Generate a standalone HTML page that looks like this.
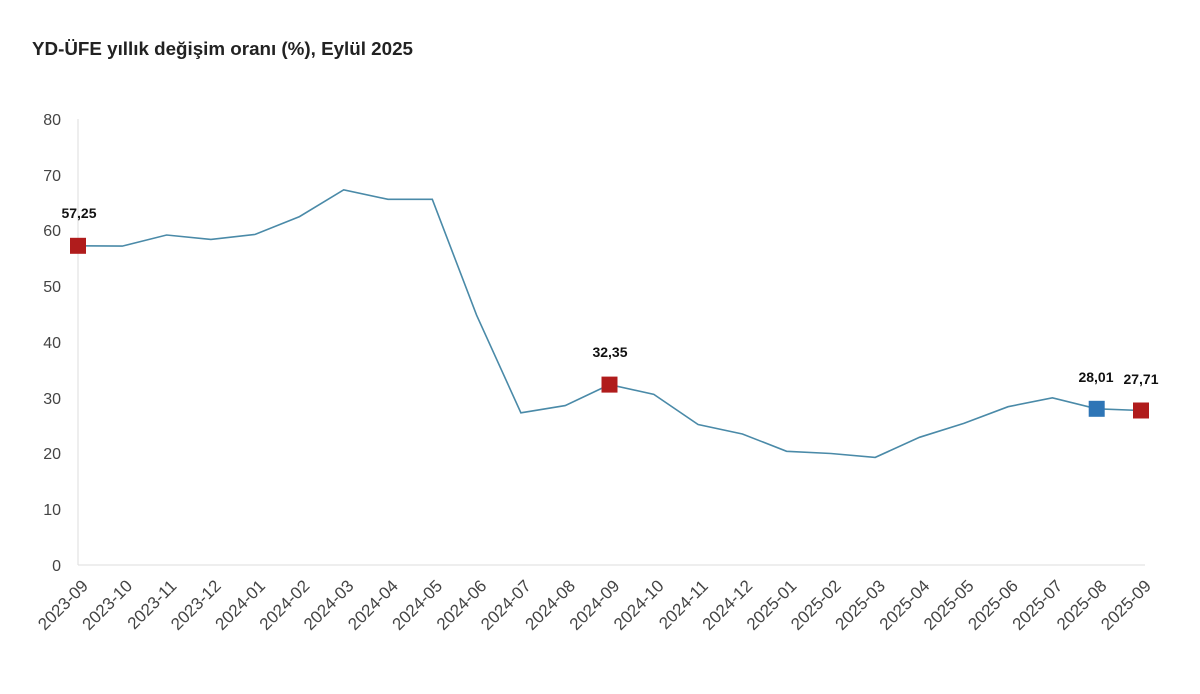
<!DOCTYPE html>
<html><head><meta charset="utf-8"><style>
html,body{margin:0;padding:0;background:#fff;}
svg{display:block;font-family:"Liberation Sans",sans-serif;}
</style></head><body>
<svg width="1200" height="694" viewBox="0 0 1200 694" xmlns="http://www.w3.org/2000/svg">
<text x="32" y="55" font-size="18.8" font-weight="bold" fill="#222">YD-ÜFE yıllık değişim oranı (%), Eylül 2025</text>
<g fill="#444" font-size="16" text-anchor="end">
<text x="61" y="125">80</text><text x="61" y="181">70</text><text x="61" y="236">60</text><text x="61" y="292">50</text>
<text x="61" y="348">40</text><text x="61" y="404">30</text><text x="61" y="459">20</text><text x="61" y="515">10</text><text x="61" y="571">0</text>
</g>
<line x1="78" y1="119" x2="78" y2="565" stroke="#ddd" stroke-width="1"/>
<line x1="78" y1="565" x2="1145" y2="565" stroke="#ddd" stroke-width="1"/>
<g fill="#444" font-size="17" text-anchor="end">
<text transform="translate(89,587) rotate(-45)">2023-09</text>
<text transform="translate(133.3,587) rotate(-45)">2023-10</text>
<text transform="translate(177.6,587) rotate(-45)">2023-11</text>
<text transform="translate(221.9,587) rotate(-45)">2023-12</text>
<text transform="translate(266.2,587) rotate(-45)">2024-01</text>
<text transform="translate(310.5,587) rotate(-45)">2024-02</text>
<text transform="translate(354.7,587) rotate(-45)">2024-03</text>
<text transform="translate(399,587) rotate(-45)">2024-04</text>
<text transform="translate(443.3,587) rotate(-45)">2024-05</text>
<text transform="translate(487.6,587) rotate(-45)">2024-06</text>
<text transform="translate(531.9,587) rotate(-45)">2024-07</text>
<text transform="translate(576.2,587) rotate(-45)">2024-08</text>
<text transform="translate(620.5,587) rotate(-45)">2024-09</text>
<text transform="translate(664.8,587) rotate(-45)">2024-10</text>
<text transform="translate(709.1,587) rotate(-45)">2024-11</text>
<text transform="translate(753.4,587) rotate(-45)">2024-12</text>
<text transform="translate(797.6,587) rotate(-45)">2025-01</text>
<text transform="translate(841.9,587) rotate(-45)">2025-02</text>
<text transform="translate(886.2,587) rotate(-45)">2025-03</text>
<text transform="translate(930.5,587) rotate(-45)">2025-04</text>
<text transform="translate(974.8,587) rotate(-45)">2025-05</text>
<text transform="translate(1019.1,587) rotate(-45)">2025-06</text>
<text transform="translate(1063.4,587) rotate(-45)">2025-07</text>
<text transform="translate(1107.7,587) rotate(-45)">2025-08</text>
<text transform="translate(1152,587) rotate(-45)">2025-09</text>
</g>
<polyline fill="none" stroke="#4a8aa8" stroke-width="1.6" points="78,245.8 122.3,246.1 166.6,235 210.9,239.4 255.2,234.4 299.5,216.6 343.7,189.8 388,199.3 432.3,199.3 476.6,315.2 520.9,412.8 565.2,405.6 609.5,384.6 653.8,394.4 698.1,424.5 742.4,434 786.6,451.3 830.9,453.5 875.2,457.4 919.5,437.3 963.8,423.4 1008.1,406.7 1052.4,397.8 1096.7,408.8 1141,410.5"/>
<rect x="70" y="237.8" width="16" height="16" fill="#b01c1c"/>
<rect x="601.5" y="376.6" width="16" height="16" fill="#b01c1c"/>
<rect x="1088.7" y="400.8" width="16" height="16" fill="#2e75b6"/>
<rect x="1133" y="402.5" width="16" height="16" fill="#b01c1c"/>
<g font-size="14" font-weight="bold" fill="#111" text-anchor="middle">
<text x="79" y="218">57,25</text>
<text x="610" y="357">32,35</text>
<text x="1096" y="382">28,01</text>
<text x="1141" y="384">27,71</text>
</g>
</svg>
</body></html>
